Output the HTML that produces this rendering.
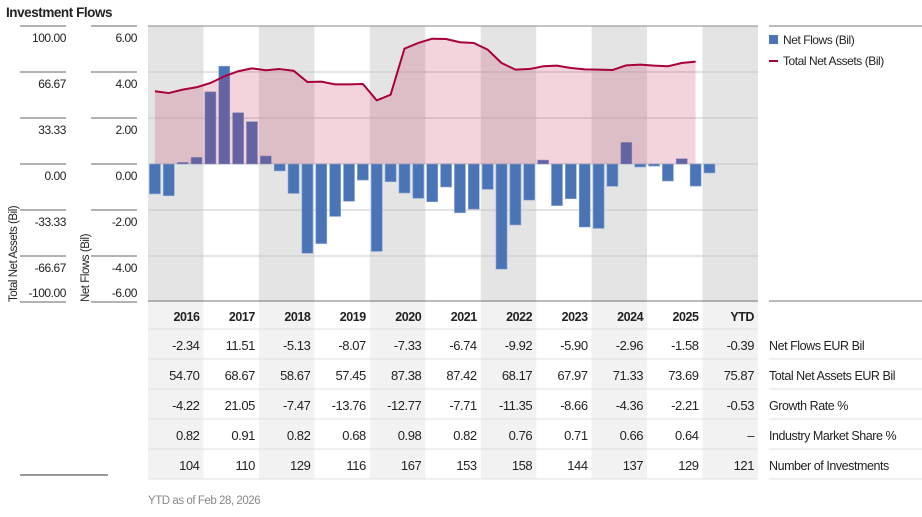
<!DOCTYPE html>
<html><head><meta charset="utf-8"><style>
body{margin:0;background:#fff;}
svg{display:block;font-family:"Liberation Sans Narrow","Liberation Sans",sans-serif;}
svg text{letter-spacing:-0.45px;}
</style></head><body>
<svg id="c" width="922" height="517" viewBox="0 0 922 517">
<text x="6" y="17" font-size="13.5" font-weight="bold" fill="#222">Investment Flows</text>
<g id="bands"></g><g id="grid"></g><g id="bars"></g><g id="area"></g><g id="axes"></g><g id="table"></g>
<g>
<line x1="769" y1="26" x2="922" y2="26" stroke="#777" stroke-width="1"/>
<rect x="769" y="35" width="9" height="9" fill="#4a74b6"/>
<text x="783" y="44" font-size="12" fill="#222">Net Flows (Bil)</text>
<line x1="769" y1="61" x2="778" y2="61" stroke="#a8003b" stroke-width="2"/>
<text x="783" y="65" font-size="12" fill="#222">Total Net Assets (Bil)</text>
<line x1="769" y1="301" x2="922" y2="301" stroke="#777" stroke-width="1"/>
</g>
<line x1="20" y1="475" x2="108" y2="475" stroke="#333"/>
<text x="148" y="504" font-size="11.5" fill="#888">YTD as of Feb 28, 2026</text>
</svg>
<script>
const years=["2016","2017","2018","2019","2020","2021","2022","2023","2024","2025","YTD"];
const flowsQ=[-1.30,-1.38,0.07,0.29, 3.14,4.25,2.23,1.84, 0.35,-0.30,-1.28,-3.88, -3.46,-2.28,-1.62,-0.70, -3.80,-0.77,-1.26,-1.49, -1.64,-1.00,-2.12,-1.96, -1.10,-4.57,-2.65,-1.57, 0.17,-1.81,-1.51,-2.74, -2.80,-0.97,0.94,-0.13, -0.09,-0.74,0.23,-0.96, -0.39];
const tnaQ=[52.7,51.4,53.9,55.6, 58.7,63.5,67.2,69.3, 67.9,68.8,67.6,59.4, 59.7,57.7,57.7,58.0, 46.1,50.2,83.6,87.7, 90.8,90.6,88.2,87.7, 82.9,73.2,68.4,68.8, 70.8,71.3,69.6,68.6, 68.4,68.1,71.5,72.0, 71.3,70.8,73.2,74.2];
const flowTicks=["6.00","4.00","2.00","0.00","-2.00","-4.00","-6.00"];
const tnaTicks=["100.00","66.67","33.33","0.00","-33.33","-66.67","-100.00"];
const rowLabels=["Net Flows EUR Bil","Total Net Assets EUR Bil","Growth Rate %","Industry Market Share %","Number of Investments"];
const rowNetFlows=["-2.34","11.51","-5.13","-8.07","-7.33","-6.74","-9.92","-5.90","-2.96","-1.58","-0.39"];
const rowTNA=["54.70","68.67","58.67","57.45","87.38","87.42","68.17","67.97","71.33","73.69","75.87"];
const rowGrowth=["-4.22","21.05","-7.47","-13.76","-12.77","-7.71","-11.35","-8.66","-4.36","-2.21","-0.53"];
const rowShare=["0.82","0.91","0.82","0.68","0.98","0.82","0.76","0.71","0.66","0.64","–"];
const rowCount=["104","110","129","116","167","153","158","144","137","129","121"];

const NS="http://www.w3.org/2000/svg";
const X0=148,CW=(758-148)/11,TOP=26,BOT=302,FMAX=6;
const yF=v=>164-v*(BOT-TOP)/(2*FMAX);
const yT=v=>yF(v*6/100);
const qx=i=>{const c=Math.floor(i/4),q=i%4;return X0+c*CW+(q+0.5)*CW/4;};
function mk(p,t,a){const e=document.createElementNS(NS,t);for(const k in a)e.setAttribute(k,a[k]);document.getElementById(p).appendChild(e);return e;}

years.forEach((y,i)=>{
  if(i%2===0){
    const b=mk('bands','rect',{x:X0+i*CW,y:TOP,width:CW,height:BOT-TOP,fill:'#e4e4e4'});
    
    
    const t=mk('bands','rect',{x:X0+i*CW,y:BOT,width:CW,height:479-BOT,fill:'#f2f2f2'});
    
    
  }
});
flowTicks.forEach((t,i)=>{
  const v=parseFloat(t),y=yF(v),last=i===flowTicks.length-1;
  if(i>0&&!last){
    const g=mk('grid','line',{x1:X0,x2:758,y1:y,y2:y,stroke:'#c8c8c8','stroke-width':1});
    
    
  }
  mk('axes','line',{x1:91,x2:137,y1:y,y2:y,stroke:'#666'});
  mk('axes','line',{x1:20,x2:66,y1:y,y2:y,stroke:'#666'});
  const ty=last?y-5:y+16;
  const a=mk('axes','text',{x:137,y:ty,'text-anchor':'end','font-size':12,fill:'#222'});
  a.textContent=t;
  
  
  const b=mk('axes','text',{x:66,y:ty,'text-anchor':'end','font-size':12,fill:'#222'});
  b.textContent=tnaTicks[i];
  
  
});
mk('axes','line',{x1:X0,x2:758,y1:TOP,y2:TOP,stroke:'#888'});
mk('axes','line',{x1:X0,x2:758,y1:301,y2:301,stroke:'#777'});
let at=mk('axes','text',{x:0,y:0,'font-size':11.5,fill:'#222',transform:'translate(17,302) rotate(-90)'});
at.textContent='Total Net Assets (Bil)';


at=mk('axes','text',{x:0,y:0,'font-size':11.5,fill:'#222',transform:'translate(89,302) rotate(-90)'});
at.textContent='Net Flows (Bil)';



flowsQ.forEach((v,i)=>{
  const x=qx(i),y=yF(Math.max(v,0)),h=Math.abs(yF(v)-yF(0));
  const r=mk('bars','rect',{x:x-5.5,y:y,width:11,height:Math.max(h,1),fill:'#4a74b6',stroke:'#8aa6d2','stroke-width':0.6});
  
  
});
const pts=tnaQ.map((v,i)=>[qx(i),yT(v)]);
const area=mk('area','path',{d:'M'+pts[0][0]+','+yF(0)+' L'+pts.map(p=>p.join(',')).join(' L')+' L'+pts[pts.length-1][0]+','+yF(0)+'Z',fill:'rgba(200,40,80,0.2)'});


const ln=mk('area','polyline',{points:pts.map(p=>p.join(',')).join(' '),fill:'none',stroke:'#a8003b','stroke-width':2,'stroke-linejoin':'round'});



years.forEach((y,i)=>{
  const t=mk('table','text',{x:X0+(i+1)*CW-4,y:321,'text-anchor':'end','font-size':12.5,'font-weight':'bold',fill:'#222'});
  t.textContent=y;
  
  
});
const rows=[rowNetFlows,rowTNA,rowGrowth,rowShare,rowCount];
rows.forEach((r,ri)=>{
  const yb=329+ri*30;
  mk('table','line',{x1:X0,x2:758,y1:yb,y2:yb,stroke:'#e0e0e0'});
  if(ri>0) mk('table','line',{x1:769,x2:922,y1:yb,y2:yb,stroke:'#e0e0e0'});
  r.forEach((v,i)=>{
    const t=mk('table','text',{x:X0+(i+1)*CW-4,y:yb+21,'text-anchor':'end','font-size':13,fill:'#222'});
    t.textContent=v;
    
    
  });
  const l=mk('table','text',{x:769,y:yb+21,'font-size':12.5,fill:'#222'});
  l.textContent=rowLabels[ri];
  
  
});
mk('table','line',{x1:X0,x2:758,y1:479,y2:479,stroke:'#e0e0e0'});
mk('table','line',{x1:769,x2:922,y1:479,y2:479,stroke:'#e0e0e0'});
</script>
</body></html>
